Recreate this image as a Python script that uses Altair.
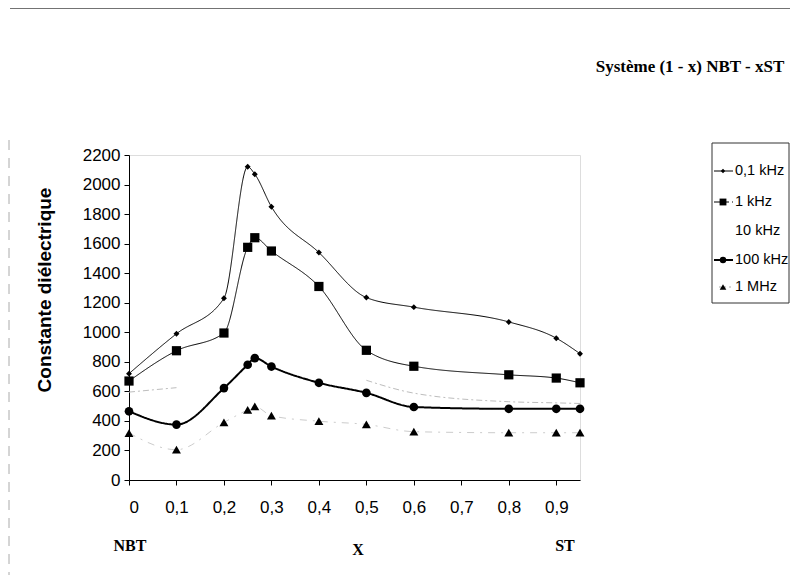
import altair as alt
import pandas as pd

# ---- data ----
x_vals = [0, 0.1, 0.2, 0.25, 0.265, 0.3, 0.4, 0.5, 0.6, 0.8, 0.9, 0.95]
series_names = ["0,1 kHz", "1 kHz", "10 kHz", "100 kHz", "1 MHz"]
k01 = [720, 990, 1230, 2120, 2070, 1850, 1540, 1235, 1170, 1070, 960, 855]
k1 = [670, 875, 995, 1575, 1640, 1550, 1310, 878, 770, 712, 690, 658]
k10 = [595, 625, None, None, None, None, None, 675, 588, 530, 522, 518]
k100 = [465, 375, 622, 780, 825, 768, 658, 590, 494, 482, 482, 482]
m1 = [318, 205, 390, 475, 498, 435, 398, 376, 327, 320, 320, 320]
x_ticks = [0, 0.1, 0.2, 0.3, 0.4, 0.5, 0.6, 0.7, 0.8, 0.9]
y_ticks = list(range(0, 2201, 200))
title_text = "Système (1 - x) NBT - xST"
y_title = "Constante diélectrique"
bottom_labels = ["NBT", "X", "ST"]

rows = []
for name, vals in zip(series_names, [k01, k1, k10, k100, m1]):
    seg = 0
    gap = True
    for xv, yv in zip(x_vals, vals):
        if yv is None:
            gap = True
            continue
        if gap:
            seg += 1
            gap = False
        rows.append({"series": name, "x": xv, "y": yv, "seg": seg})
df = pd.DataFrame(rows)

styles = {
    "0,1 kHz": dict(color="black", width=1, dash=[1, 0], shape="diamond", size=35),
    "1 kHz": dict(color="black", width=1, dash=[1, 0], shape="square", size=85),
    "10 kHz": dict(color="#bdbdbd", width=1, dash=[6, 3, 2, 3], shape=None, size=0),
    "100 kHz": dict(color="black", width=2, dash=[1, 0], shape="circle", size=75),
    "1 MHz": dict(color="#cccccc", width=1, dash=[7, 6, 2, 6], shape="triangle-up", size=80),
}

SANS = "Liberation Sans"
SERIF = "Liberation Serif"

X = alt.X("x:Q", scale=alt.Scale(domain=[0, 0.95], nice=False, zero=False),
          axis=alt.Axis(values=x_ticks, title=None, grid=False, tickSize=5,
                        labelExpr="replace(format(datum.value, '.1~f'), '.', ',')",
                        labelFont=SANS, labelFontSize=17, labelPadding=14,
                        labelColor="black", domainColor="black", tickColor="black"))
Y = alt.Y("y:Q", scale=alt.Scale(domain=[0, 2200], nice=False),
          axis=alt.Axis(values=y_ticks, title=None, grid=False, tickSize=5, format="d",
                        labelFont=SANS, labelFontSize=17, labelPadding=4,
                        labelColor="black", domainColor="black", tickColor="black"))

base = alt.Chart(df).encode(x=X, y=Y)
layers = []
for name in series_names:
    st = styles[name]
    sub = base.transform_filter(alt.datum.series == name)
    layers.append(sub.mark_line(color=st["color"], strokeWidth=st["width"],
                                strokeDash=st["dash"], interpolate="monotone")
                  .encode(detail="seg:N"))
    if st["shape"]:
        layers.append(sub.mark_point(shape=st["shape"], size=st["size"], filled=True,
                                     color="black", opacity=1))

one = pd.DataFrame({"a": [0]})

# legend
leg_y = [16, 47, 76, 105, 132]
layers.append(alt.Chart(one).mark_rect(fill=None, stroke="#333", strokeWidth=1).encode(
    x=alt.value(583), x2=alt.value(660), y=alt.value(-12), y2=alt.value(148)))
for name, yy in zip(series_names, leg_y):
    st = styles[name]
    if name == "1 MHz":
        layers.append(alt.Chart(one).mark_rule(color="#aaa", strokeWidth=1, strokeDash=[2, 3]).encode(
            x=alt.value(590), x2=alt.value(602), y=alt.value(yy)))
    elif st["shape"]:
        layers.append(alt.Chart(one).mark_rule(color="black", strokeWidth=st["width"],
                                               strokeDash=[1, 0] if name != "1 kHz" else [6, 3]).encode(
            x=alt.value(585), x2=alt.value(604), y=alt.value(yy)))
    if st["shape"]:
        layers.append(alt.Chart(one).mark_point(shape=st["shape"], size=st["size"] * 0.55,
                                                filled=True, color="black", opacity=1).encode(
            x=alt.value(594), y=alt.value(yy)))
    layers.append(alt.Chart(pd.DataFrame({"label": [name]})).mark_text(
        font=SANS, fontSize=14.5, align="left", baseline="middle", color="black").encode(
        x=alt.value(606), y=alt.value(yy), text="label:N"))

# texts
layers.append(alt.Chart(pd.DataFrame({"t": [title_text]})).mark_text(
    font=SERIF, fontSize=17, fontWeight="bold", align="center", baseline="alphabetic",
    color="black").encode(x=alt.value(561), y=alt.value(-83), text="t:N"))
layers.append(alt.Chart(pd.DataFrame({"t": [y_title]})).mark_text(
    font=SANS, fontSize=19, fontWeight="bold", align="center", baseline="middle",
    angle=270, color="black").encode(x=alt.value(-84), y=alt.value(135), text="t:N"))
for lab, xx, yy in zip(bottom_labels, [1, 229, 436], [396, 400, 396]):
    layers.append(alt.Chart(pd.DataFrame({"t": [lab]})).mark_text(
        font=SERIF, fontSize=16, fontWeight="bold", align="center", baseline="alphabetic",
        color="black").encode(x=alt.value(xx), y=alt.value(yy), text="t:N"))

# scan border lines
layers.append(alt.Chart(one).mark_rule(color="#444", strokeWidth=1.5).encode(
    x=alt.value(-119), x2=alt.value(661), y=alt.value(-147)))
layers.append(alt.Chart(one).mark_rule(color="#aaa", strokeWidth=1, strokeDash=[10, 8]).encode(
    x=alt.value(-120), y=alt.value(-15), y2=alt.value(420)))

chart = alt.layer(*layers).properties(
    width=451, height=325,
    autosize=alt.AutoSizeParams(type="none"),
    padding={"left": 121, "top": 147, "right": 210, "bottom": 95},
).configure_view(stroke=None).configure(background="white")

chart.save("out.html", embed_options={"renderer": "svg", "actions": False})
